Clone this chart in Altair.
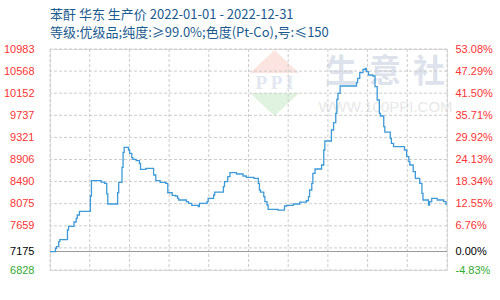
import json
import altair as alt
import numpy as np
import pandas as pd

# ---------------- data ----------------
title_lines = [
    "苯酐 华东 生产价 2022-01-01 - 2022-12-31",
    "等级:优级品;纯度:≥99.0%;色度(Pt-Co),号:≤150",
]

dates = [
    "2022-01-01", "2022-01-06", "2022-01-07", "2022-01-09", "2022-01-10", "2022-01-17",
    "2022-01-18", "2022-01-23", "2022-01-25", "2022-01-26", "2022-01-28", "2022-02-07",
    "2022-02-08", "2022-02-17", "2022-02-20", "2022-02-22", "2022-02-23", "2022-03-04",
    "2022-03-05", "2022-03-08", "2022-03-09", "2022-03-10", "2022-03-14", "2022-03-15",
    "2022-03-17", "2022-03-18", "2022-03-21", "2022-03-24", "2022-03-25", "2022-03-30",
    "2022-04-06", "2022-04-08", "2022-04-12", "2022-04-17", "2022-04-19", "2022-04-23",
    "2022-04-26", "2022-04-28", "2022-04-29", "2022-05-06", "2022-05-08", "2022-05-11",
    "2022-05-17", "2022-05-18", "2022-05-25", "2022-05-26", "2022-05-31", "2022-06-01",
    "2022-06-09", "2022-06-10", "2022-06-13", "2022-06-15", "2022-06-21", "2022-06-27",
    "2022-06-30", "2022-07-07", "2022-07-11", "2022-07-12", "2022-07-13", "2022-07-16",
    "2022-07-17", "2022-07-19", "2022-07-20", "2022-07-29", "2022-08-04", "2022-08-06",
    "2022-08-12", "2022-08-18", "2022-08-24", "2022-08-26", "2022-08-27", "2022-08-29",
    "2022-08-30", "2022-09-01", "2022-09-07", "2022-09-09", "2022-09-10", "2022-09-16",
    "2022-09-18", "2022-09-20", "2022-09-21", "2022-09-22", "2022-09-24", "2022-10-09",
    "2022-10-10", "2022-10-12", "2022-10-15", "2022-10-17", "2022-10-18", "2022-10-20",
    "2022-10-24", "2022-10-26", "2022-10-28", "2022-10-30", "2022-10-31", "2022-11-03",
    "2022-11-04", "2022-11-09", "2022-11-10", "2022-11-12", "2022-11-22", "2022-11-24",
    "2022-11-26", "2022-11-27", "2022-11-30", "2022-12-02", "2022-12-06", "2022-12-08",
    "2022-12-09", "2022-12-14", "2022-12-15", "2022-12-17", "2022-12-22", "2022-12-28",
    "2022-12-30", "2022-12-31",
]
prices = [
    7175, 7236, 7266, 7360, 7400, 7580,
    7650, 7730, 7800, 7862, 7930, 8219,
    8507, 8482, 8458, 8260, 8069, 8281,
    8477, 8759, 9040, 9135, 9084, 9022,
    8939, 8909, 8883, 8834, 8721, 8740,
    8614, 8507, 8477, 8458, 8280, 8232,
    8219, 8176, 8144, 8112, 8082, 8044,
    8018, 8082, 8112, 8176, 8238, 8294,
    8394, 8488, 8582, 8657, 8633, 8595,
    8571, 8552, 8458, 8332, 8294, 8206,
    8112, 8050, 7969, 7955, 8031, 8044,
    8069, 8106, 8130, 8206, 8332, 8458,
    8646, 8727, 8802, 9084, 9253, 9460,
    9597, 9774, 10037, 10150, 10287, 10349,
    10432, 10537, 10601, 10620, 10556, 10494,
    10475, 10274, 10024, 9774, 9723, 9522,
    9420, 9304, 9210, 9146, 9084, 8958,
    8864, 8802, 8676, 8552, 8458, 8270,
    8144, 8050, 8112, 8176, 8144, 8112,
    8069, 8069,
]

x_tick_labels = ["01/01", "02/06", "03/14", "04/19", "05/25", "06/30",
                 "08/05", "09/10", "10/16", "11/21", "12/31"]
y_tick_values = [10983, 10568, 10152, 9737, 9321, 8906, 8490, 8075, 7659, 7175, 6828]
pct_tick_labels = ["53.08%", "47.29%", "41.50%", "35.71%", "29.92%", "24.13%",
                   "18.34%", "12.55%", "6.76%", "0.00%", "-4.83%"]
base_price = 7175

# ---------------- derived tables ----------------
df = pd.DataFrame({"date": pd.to_datetime(dates), "price": prices})
df["day"] = df["date"].dt.dayofyear - 1
x_max = int(df["day"].max())

y_min, y_max = min(y_tick_values), max(y_tick_values)
x_grid = pd.DataFrame({"gx": np.linspace(0, x_max, len(x_tick_labels))})
y_grid = pd.DataFrame({"gy": np.linspace(y_min, y_max, len(y_tick_values))})
base_df = pd.DataFrame({"b": [base_price]})
one = pd.DataFrame({"k": [0]})

x_scale = alt.Scale(domain=[0, x_max], nice=False, zero=False)
y_scale = alt.Scale(domain=[y_min, y_max], nice=False, zero=False)

BLUE = "#1a5b8f"
RED = "#ff3333"
GREEN = "#33aa33"
AXFONT = "Liberation Sans"

color_expr = (f"datum.value > {base_price} ? '{RED}' : "
              f"(datum.value < {base_price} ? '{GREEN}' : '#000000')")
x_label_expr = f"{json.dumps(x_tick_labels)}[round(datum.value / {x_max / (len(x_tick_labels) - 1)})]"
pct_label_expr = f"{json.dumps(pct_tick_labels)}[indexof({json.dumps(y_tick_values)}, datum.value)]"

# ---------------- watermark / logo ----------------
base_deco = alt.Chart(one)
tri_up = base_deco.mark_point(shape="M-1,0L1,0L0,-0.94Z", filled=True, size=2401,
                              color="#fce4e0", opacity=1).encode(
    x=alt.value(224.5), y=alt.value(24))
tri_dn = base_deco.mark_point(shape="M-1,0L1,0L0,0.94Z", filled=True, size=2401,
                              color="#e0f2e0", opacity=1).encode(
    x=alt.value(224.5), y=alt.value(44))
ppi = base_deco.mark_text(text="P P I", font="Liberation Serif", fontSize=19,
                          fontWeight="bold", color="#e2e7f1", baseline="middle").encode(
    x=alt.value(224.5), y=alt.value(34))
wm_chars = []
for ch, xx in zip("生意社", [291, 335, 379]):
    wm_chars.append(base_deco.mark_text(text=ch, font="Noto Sans CJK SC", fontSize=32,
                                        fontWeight="bold", color="#dde2ec",
                                        baseline="middle").encode(
        x=alt.value(xx), y=alt.value(23)))
www = base_deco.mark_text(text="WWW.100PPI.COM", font="Liberation Sans", fontSize=15,
                          color="#e8e8e8", baseline="middle").encode(
    x=alt.value(335.5), y=alt.value(57.5))

# ---------------- grid, base line, series ----------------
vgrid = alt.Chart(x_grid).mark_rule(color="#cccccc", strokeDash=[3, 2], strokeWidth=1).encode(
    x=alt.X("gx:Q", scale=x_scale, axis=None))

hgrid = alt.Chart(y_grid).mark_rule(color="#cccccc", strokeDash=[3, 2], strokeWidth=1).encode(
    y=alt.Y("gy:Q", scale=y_scale,
            axis=alt.Axis(orient="right", values=y_tick_values, labelExpr=pct_label_expr,
                          labelColor={"expr": color_expr}, title=None, grid=False,
                          ticks=False, domain=False, labelPadding=8, labelFont=AXFONT,
                          labelFontSize=11, labelAlign="left", labelBaseline="middle")))

base_rule = alt.Chart(base_df).mark_rule(color="#999999", strokeWidth=1).encode(
    y=alt.Y("b:Q", scale=y_scale, axis=None))

line = alt.Chart(df).mark_line(color="#3d9ad8", strokeWidth=1.3,
                               interpolate="step-after").encode(
    x=alt.X("day:Q", scale=x_scale,
            axis=alt.Axis(values=list(np.linspace(0, x_max, len(x_tick_labels))),
                          labelExpr=x_label_expr, title=None, grid=False, ticks=False,
                          domain=False, labelPadding=11, labelColor=BLUE,
                          labelFont=AXFONT, labelFontSize=11)),
    y=alt.Y("price:Q", scale=y_scale,
            axis=alt.Axis(orient="left", values=y_tick_values, format="d", title=None,
                          grid=False, ticks=False, domain=False, labelPadding=16,
                          labelColor={"expr": color_expr}, labelFont=AXFONT,
                          labelFontSize=11, labelBaseline="middle")))

# ---------------- title as text ----------------
t1 = base_deco.mark_text(text=title_lines[0], font="Noto Sans CJK SC", fontSize=13,
                         color=BLUE, align="left", baseline="middle").encode(
    x=alt.value(0), y=alt.value(-34))
t2 = base_deco.mark_text(text=title_lines[1], font="Noto Sans CJK SC", fontSize=13,
                         color=BLUE, align="left", baseline="middle").encode(
    x=alt.value(0), y=alt.value(-16))

chart = alt.layer(
    tri_up, tri_dn, ppi, *wm_chars, www, vgrid, hgrid, base_rule, line, t1, t2
).resolve_scale(y="independent").resolve_axis(y="independent").properties(
    width=397, height=221,
    autosize=alt.AutoSizeParams(type="none"),
    padding={"left": 50, "top": 49, "right": 53, "bottom": 30},
).configure_view(stroke="#999999", strokeWidth=1).configure(background="white")

chart.save("out.html", embed_options={"renderer": "svg", "actions": False})
